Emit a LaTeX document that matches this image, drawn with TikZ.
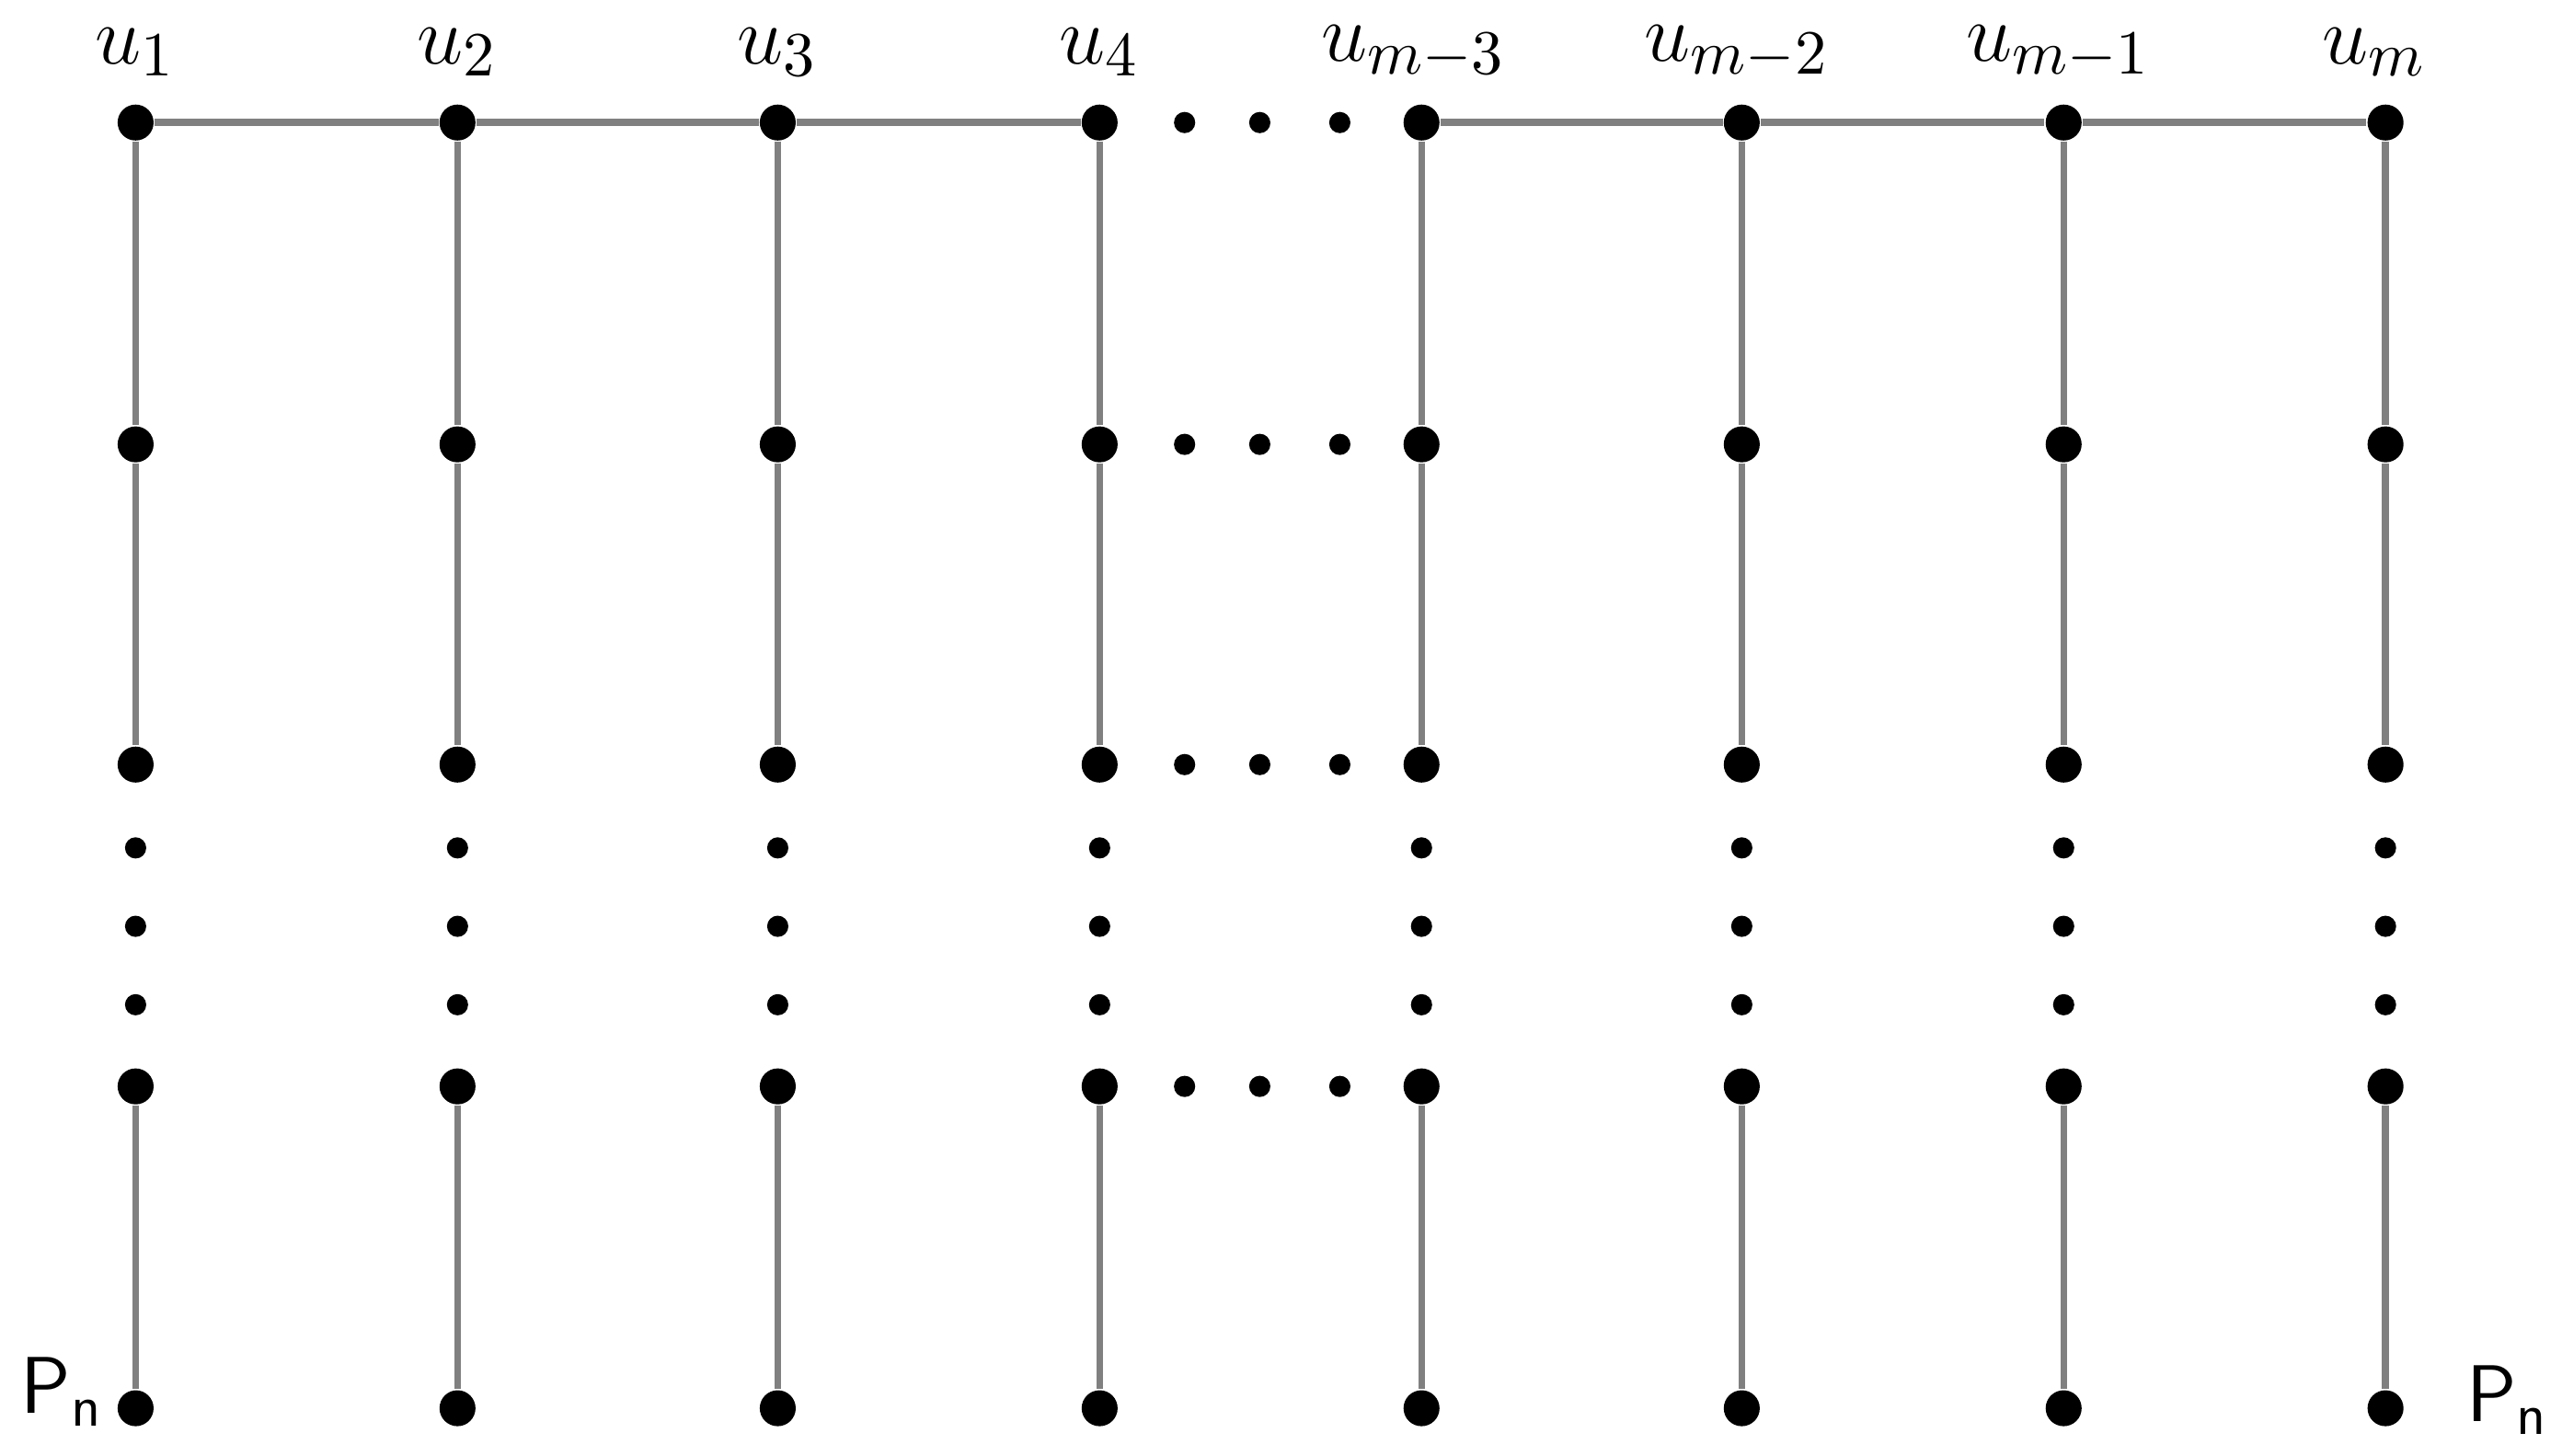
\documentclass[tikz,border=0pt]{standalone}
\begin{document}
\begin{tikzpicture}[x=0.01cm,y=-0.01cm,
  big/.style={circle,fill=black,inner sep=0pt,minimum size=0.22cm},
  sm/.style={circle,fill=black,inner sep=0pt,minimum size=0.13cm},
  edge/.style={draw=black!50,line width=1.2pt},
  lab/.style={inner sep=0pt,font=\fontsize{15}{18}\selectfont}]
\useasboundingbox (0,0) rectangle (1568,890.7);
\foreach \c/\x in {1/83,2/280,3/476,4/673,5/870,6/1066,7/1263,8/1460}{
  \foreach \r/\y in {1/75,2/272,3/468,4/665,5/862}{
    \node[big] (n\c\r) at (\x,\y) {};
  }
  \foreach \k/\y in {1/519,2/567,3/615}{
    \node[sm] (d\c\k) at (\x,\y) {};
  }
}
\foreach \c in {1,...,8}{
  \draw[edge] (n\c1) -- (n\c2) -- (n\c3);
  \draw[edge] (n\c4) -- (n\c5);
}
\draw[edge] (n11) -- (n21) -- (n31) -- (n41);
\draw[edge] (n51) -- (n61) -- (n71) -- (n81);
\foreach \r/\y in {1/75,2/272,3/468,4/665}{
  \foreach \k/\x in {1/725,2/771,3/820}{
    \node[sm] (h\r\k) at (\x,\y) {};
  }
}
\node[lab] (l1) at (83,32) {$u_1$};
\node[lab] (l2) at (280,32) {$u_2$};
\node[lab] (l3) at (476,32) {$u_3$};
\node[lab] (l4) at (673,32) {$u_4$};
\node[lab] (l5) at (865,32) {$u_{m-3}$};
\node[lab] (l6) at (1063,32) {$u_{m-2}$};
\node[lab] (l7) at (1260,32) {$u_{m-1}$};
\node[lab] (l8) at (1453,32) {$u_m$};
\node[inner sep=0pt,font=\sffamily\fontsize{14}{17}\selectfont] (p1) at (38,852) {P$_\mathsf{n}$};
\node[inner sep=0pt,font=\sffamily\fontsize{14}{17}\selectfont] (p2) at (1535,857) {P$_\mathsf{n}$};
\end{tikzpicture}
\end{document}
